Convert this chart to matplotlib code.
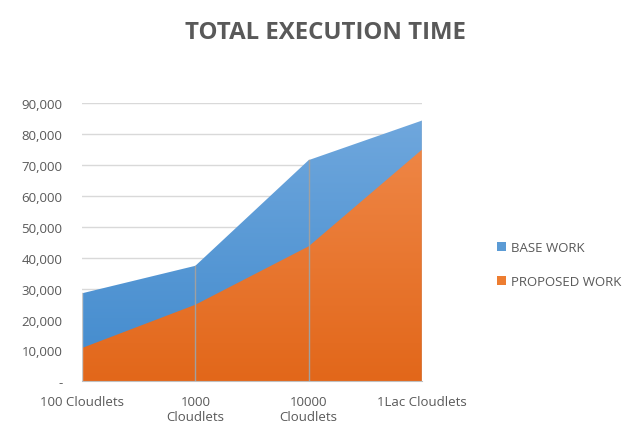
import matplotlib.pyplot as plt
import numpy as np
from matplotlib.colors import LinearSegmentedColormap
from matplotlib.patches import Patch

categories = ["100 Cloudlets", "1000\nCloudlets", "10000\nCloudlets", "1Lac Cloudlets"]
base_work = [28500, 37400, 71600, 84400]
proposed_work = [10800, 24800, 43700, 75000]

plt.rcParams['font.family'] = ['Open Sans', 'DejaVu Sans']
text_color = '#595959'

fig = plt.figure(figsize=(6.36, 4.39), dpi=100)
ax = fig.add_axes([0.129, 0.129, 0.5345, 0.6335])

x = np.arange(len(categories))
ymax = 90000


def gradient_area(values, c_top, c_bottom, z):
    poly = ax.fill_between(x, 0, values, color='none', zorder=z)
    cmap = LinearSegmentedColormap.from_list('g', [c_bottom, c_top])
    grad = np.linspace(0, 1, 256).reshape(-1, 1)
    im = ax.imshow(grad, cmap=cmap, aspect='auto', origin='lower',
                   extent=[0, len(categories) - 1, 0, ymax], zorder=z)
    im.set_clip_path(poly.get_paths()[0], transform=ax.transData)


gradient_area(base_work, '#72a9de', '#418acd', 2)
gradient_area(proposed_work, '#f18c4e', '#e2671a', 3)

# drop lines
for i, v in enumerate(base_work):
    col = '#a0a0a0' if 0 < i < len(categories) - 1 else '#c8c8c8'
    ax.plot([i, i], [0, v], color=col, lw=1, zorder=4)

ax.set_xlim(0, len(categories) - 1)
ax.set_ylim(0, ymax)
ax.set_yticks(range(0, ymax + 1, 10000))
ax.set_yticklabels(['-'] + [f"{v:,}" for v in range(10000, ymax + 1, 10000)])
ax.set_xticks(x)
ax.set_xticklabels(categories)
ax.tick_params(length=0, colors=text_color, labelsize=9.5)
ax.tick_params(axis='y', pad=14)
ax.tick_params(axis='x', pad=10)
ax.grid(axis='y', color='#d9d9d9', lw=1, zorder=1)
ax.set_axisbelow(True)
for s in ['top', 'right', 'left']:
    ax.spines[s].set_visible(False)
ax.spines['bottom'].set_color('#bfbfbf')
ax.spines['bottom'].set_zorder(5)

fig.text(0.512, 0.925, "TOTAL EXECUTION TIME", ha='center', va='center',
         fontsize=17.3, fontweight='bold', color=text_color)

handles = [Patch(facecolor='#5b9bd5', label='BASE WORK'),
           Patch(facecolor='#ed7d31', label='PROPOSED WORK')]
fig.legend(handles=handles, loc='center left', bbox_to_anchor=(0.762, 0.395),
           frameon=False, fontsize=9.5, labelcolor=text_color,
           handlelength=0.7, handleheight=0.7, handletextpad=0.4, labelspacing=1.6)

fig.savefig('out.png', dpi=100)
